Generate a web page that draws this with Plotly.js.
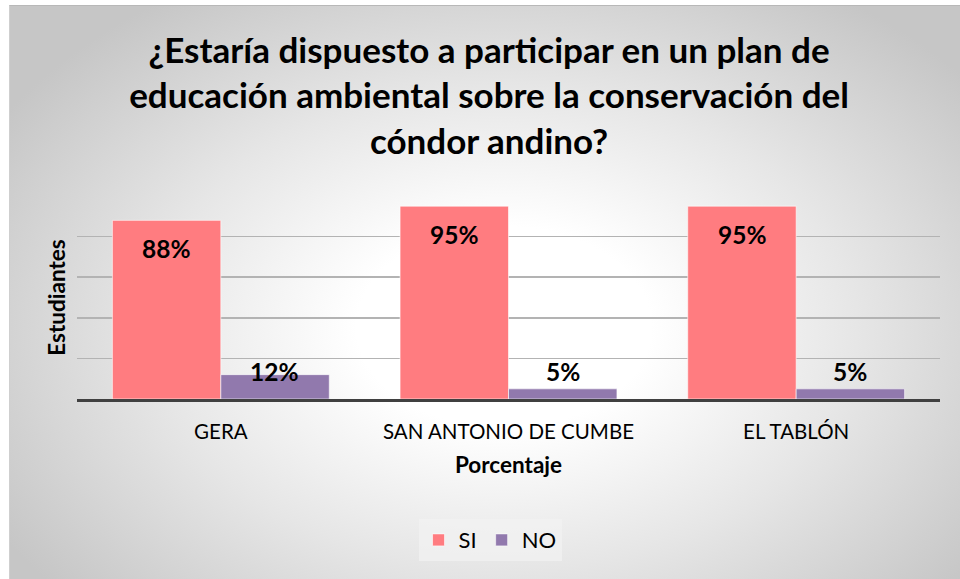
<!DOCTYPE html>
<html><head><meta charset="utf-8">
<script src="https://cdn.plot.ly/plotly-3.0.1.min.js"></script>
<style>
html,body{margin:0;padding:0;background:#fff;}
#bg{position:absolute;left:9px;top:5px;width:951px;height:574px;
 border-top:1px solid #b8b8b8;border-left:1px solid #cfcfcf;box-sizing:border-box;
 background:radial-gradient(ellipse 62% 70% at 52% 56%, #ffffff 0%, #ffffff 25%, #e6e6e6 60%, #c6c6c6 100%);}
#chart{position:absolute;left:0;top:0;width:960px;height:579px;}
</style></head>
<body>
<div id="bg"></div>
<div id="chart"></div>
<script>
const categories = ["GERA", "SAN ANTONIO DE CUMBE", "EL TABLÓN"];
const siValues = [88, 95, 95];
const noValues = [12, 5, 5];
const seriesNames = ["SI", "NO"];
const yTicks = [0, 20, 40, 60, 80, 100];

const FONT = "Lato, 'Open Sans', sans-serif";
const siColor = "#FF7C80";
const noColor = "#9179AD";

const traces = [
  {type:"bar", name:seriesNames[0], x:categories, y:siValues,
   marker:{color:siColor, line:{color:"rgba(255,255,255,0.6)", width:1}}, hoverinfo:"none"},
  {type:"bar", name:seriesNames[1], x:categories, y:noValues,
   marker:{color:noColor, line:{color:"rgba(255,255,255,0.6)", width:1}}, hoverinfo:"none"}
];

const annotations = [];
categories.forEach((c,i)=>{
  annotations.push({x:c, y:siValues[i], xref:"x", yref:"y", xshift:-54, yshift:-12,
    yanchor:"top", showarrow:false, text:siValues[i]+"%",
    font:{family:FONT, size:24.5, color:"#000", weight:"bold"}});
  annotations.push({x:c, y:0, xref:"x", yref:"y", xshift:54, yshift:11,
    yanchor:"bottom", showarrow:false, text:noValues[i]+"%",
    font:{family:FONT, size:24.5, color:"#000", weight:"bold"}});
});

const layout = {
  width:960, height:579,
  paper_bgcolor:"rgba(0,0,0,0)", plot_bgcolor:"rgba(0,0,0,0)",
  margin:{l:77, r:20, t:196, b:180},
  barmode:"group", bargap:0.246, bargroupgap:0,
  title:{text:"¿Estaría dispuesto a participar en un plan de<br>educación ambiental sobre la conservación del<br>cóndor andino?",
    x:0.5094, xref:"container", xanchor:"center", y:0.892, yref:"container", yanchor:"top",
    font:{family:FONT, size:35, color:"#000", weight:"bold"}},
  xaxis:{showline:true, linecolor:"#404040", linewidth:3, ticks:"", showgrid:false,
    tickfont:{family:FONT, size:20.5, color:"#000"}, ticklabelstandoff:12,
    title:{text:"Porcentaje", font:{family:FONT, size:22.5, color:"#000", weight:"bold"}, standoff:16},
    automargin:false},
  yaxis:{range:[0,100], tickvals:yTicks, showticklabels:false, showgrid:true,
    gridcolor:"#b3b3b3", gridwidth:1.5, zeroline:false, showline:false,
    title:{text:"Estudiantes", font:{family:FONT, size:22.5, color:"#000", weight:"bold"}, standoff:4},
    automargin:false},
  legend:{orientation:"h", x:0.4786, xanchor:"center", y:-0.695, yanchor:"middle",
    bgcolor:"rgba(242,242,242,0.7)", font:{family:FONT, size:22, color:"#000"},
    itemwidth:30, tracegroupgap:0},
  annotations:annotations,
  showlegend:true
};

Plotly.newPlot("chart", traces, layout, {displayModeBar:false, staticPlot:true});
</script>
</body></html>
